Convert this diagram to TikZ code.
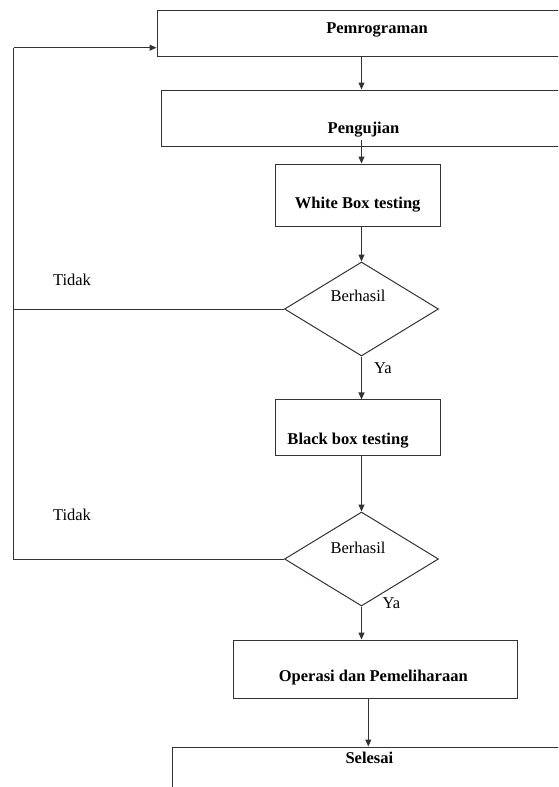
\documentclass[tikz,border=0pt]{standalone}
\usepackage{fontspec}
\setmainfont{Liberation Serif}
\usetikzlibrary{shapes.geometric,arrows.meta}

\begin{document}
\begin{tikzpicture}[x=1pt, y=-1pt,
    kotak/.style={rectangle, draw=black!80, line width=1pt, inner sep=0pt},
    belah/.style={diamond, draw=black!80, line width=1pt, inner sep=0pt, minimum width=154pt, minimum height=94pt},
    tulis/.style={inner sep=0pt, text height=11pt, text depth=3.5pt, font=\fontsize{16.5}{19}\selectfont},
    tebal/.style={tulis, font=\fontsize{16.5}{19}\selectfont\bfseries},
    garis/.style={draw=black!80, line width=1pt},
    panah/.style={garis, -{Triangle[length=7pt,width=6pt]}}]
    \clip (0,0) rectangle (558,787);
    % Boxes of the main flow
    \node[kotak, minimum width=443pt, minimum height=45.5pt] (pemrograman) at (378.5,33.5) {};
    \node[kotak, minimum width=438.5pt, minimum height=56pt] (pengujian) at (380.75,118) {};
    \node[kotak, minimum width=165.6pt, minimum height=62pt] (whitebox) at (357.8,195) {};
    \node[belah] (cek1) at (361.5,309) {};
    \node[kotak, minimum width=165.6pt, minimum height=55.7pt] (blackbox) at (357.8,427.8) {};
    \node[belah] (cek2) at (361.5,559) {};
    \node[kotak, minimum width=284.8pt, minimum height=58.3pt] (operasi) at (375.4,669.2) {};
    \node[kotak, minimum width=428pt, minimum height=53pt] (selesai) at (386,773.5) {};

    % Texts
    \node[tebal] (pemrogramanT) at (377,29.5) {Pemrograman};
    \node[tebal] (pengujianT) at (363.5,130) {Pengujian};
    \node[tebal] (whiteboxT) at (357.7,205) {White Box testing};
    \node[tulis] (cek1T) at (358,298) {Berhasil};
    \node[tebal] (blackboxT) at (348,440.7) {Black box testing};
    \node[tulis] (cek2T) at (358,550) {Berhasil};
    \node[tebal] (operasiT) at (373.3,677.7) {Operasi dan Pemeliharaan};
    \node[tebal] (selesaiT) at (369.4,760) {Selesai};
    \node[tulis] (tidak1) at (72,282) {Tidak};
    \node[tulis] (tidak2) at (72,516.7) {Tidak};
    \node[tulis] (ya1) at (383,370) {Ya};
    \node[tulis] (ya2) at (391.5,605) {Ya};

    % Free ends
    \coordinate (kiri) at (13.5,47.7);
    \coordinate (dalamUji) at (361.5,140);
    \coordinate (bawahOp) at (368.3,669.2);

    % Forward arrows
    \draw[panah] (cek1.north |- pemrograman.south) -- (cek1.north |- pengujian.north);
    \draw[panah] (dalamUji) -- (cek1.north |- whitebox.north);
    \draw[panah] (cek1.north |- whitebox.south) -- (cek1.north);
    \draw[panah] (cek1.south) -- (cek1.south |- blackbox.north);
    \draw[panah] (cek1.south |- blackbox.south) -- (cek2.north);
    \draw[panah] (cek2.south) -- (cek2.south |- operasi.north);
    \draw[panah] (bawahOp |- operasi.south) -- (bawahOp |- selesai.north);

    % Back loops
    \draw[garis] (cek1.west) -| (kiri);
    \draw[garis] (cek2.west) -| (kiri);
    \draw[panah] (kiri) -- (kiri -| pemrograman.west);
\end{tikzpicture}
\end{document}
